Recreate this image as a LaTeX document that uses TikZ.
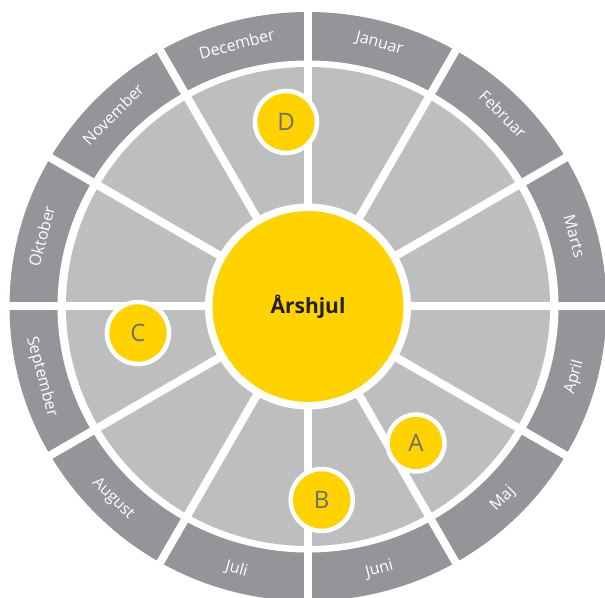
\documentclass[tikz,border=0pt]{standalone}
\usepackage{fontspec}
\setmainfont{Open Sans}
\definecolor{ringgray}{HTML}{939598}
\definecolor{segray}{HTML}{BCBEC0}
\definecolor{wheelyellow}{HTML}{FFD200}
\definecolor{lettergray}{HTML}{6D6E71}
\definecolor{hubtext}{HTML}{231F20}
\begin{document}
\begin{tikzpicture}[x=1pt,y=1pt,
  month/.style={text=white,font=\fontsize{16}{19}\selectfont,inner sep=0pt},
  marker/.style={circle,fill=wheelyellow,draw=white,line width=4.5pt,minimum size=62pt,inner sep=0pt,text=lettergray,font=\fontsize{24}{28}\selectfont},
  hubnode/.style={circle,fill=wheelyellow,draw=white,line width=7.5pt,minimum size=198.5pt,inner sep=0pt,text=hubtext,font=\bfseries\fontsize{21}{25}\selectfont}]
\useasboundingbox (-308,-290.5) rectangle (297,306.5);
\fill[ringgray] (0,0) ellipse [x radius=298.5, y radius=294.5];
\fill[white] (0,0) ellipse [x radius=250.5, y radius=246];
\fill[segray] (0,0) ellipse [x radius=242, y radius=239.5];
\foreach \a in {0,30,...,330} \draw[white,line width=8pt] (0,0) -- (\a:305);
\node[hubnode] (hub) at (0,0) {Årshjul};
\foreach \name/\ang [count=\i] in {Januar/75,Februar/45,Marts/15,April/-15,Maj/-45,Juni/-75,Juli/-105,August/-135,September/-165,Oktober/165,November/135,December/105}{
  \pgfmathsetmacro\rot{\ang>0 ? \ang-90 : \ang+90}
  \node[month,rotate=\rot] (m\i) at ({1.014*272*cos(\ang)},{272*sin(\ang)}) {\name};
}
\node[marker] (D) at (-22,184.5) {D};
\node[marker] (C) at (-170,-26.5) {C};
\node[marker] (B) at (13.7,-193.5) {B};
\node[marker,minimum size=57pt] (A) at (108,-136.5) {A};
\end{tikzpicture}
\end{document}
